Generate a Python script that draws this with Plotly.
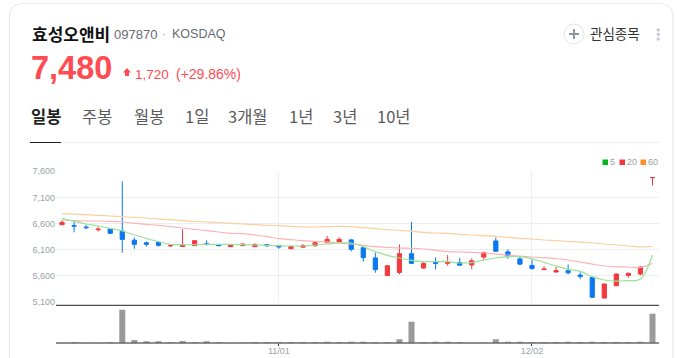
import plotly.graph_objects as go

W, H = 677, 358
session = list(range(50))
opens = [6575,6560,6530,6480,6495,6455,6280,6230,6235,6170,6160,6175,6210,6185,6155,6175,6155,6195,6175,6115,6145,6175,6230,6245,6285,6135,5940,5600,5660,6020,5745,5860,5835,5850,5805,5955,6265,6055,5920,5795,5715,5670,5695,5610,5565,5170,5405,5605,5630,7480]
highs = [6665,6640,6575,6540,6505,7408,6330,6255,6255,6200,6490,6280,6275,6195,6200,6220,6220,6200,6190,6175,6205,6245,6360,6335,6300,6150,6040,5795,6200,6630,5855,5950,5995,5940,5930,6045,6330,6105,5960,5910,5780,5770,5815,5665,5570,5440,5640,5655,5780,7480]
lows = [6575,6430,6490,6445,6405,6040,6115,6155,6155,6145,6155,6170,6175,6165,6150,6170,6155,6165,6115,6110,6140,6150,6220,6245,6065,5870,5655,5595,5625,5820,5735,5720,5790,5795,5720,5890,6060,5925,5805,5715,5715,5655,5625,5530,5180,5165,5400,5560,5605,7330]
closes = [6620,6550,6520,6490,6410,6295,6200,6200,6180,6180,6195,6270,6200,6175,6195,6205,6195,6170,6150,6160,6175,6230,6295,6295,6105,5945,5715,5790,6020,5835,5835,5835,5860,5800,5885,6045,6065,5965,5820,5735,5725,5695,5655,5585,5185,5440,5630,5645,5765,7480]
ma5 = [6698,6641,6590,6551,6507,6455,6379,6315,6251,6200,6193,6193,6200,6200,6200,6193,6187,6181,6174,6168,6168,6187,6206,6225,6225,6155,6059,5989,5938,5893,5867,5867,5867,5842,5848,5899,5938,5963,5963,5925,5854,5784,5720,5682,5580,5516,5496,5503,5535,5995]
ma20 = [6666,6654,6647,6647,6641,6628,6603,6583,6564,6539,6513,6487,6462,6436,6411,6404,6379,6347,6308,6289,6270,6257,6244,6225,6206,6181,6155,6142,6129,6123,6110,6085,6059,6053,6046,6034,6014,5995,5976,5957,5944,5925,5900,5861,5822,5784,5771,5765,5758,5835]
ma60 = [6788,6778,6769,6756,6743,6730,6718,6705,6686,6673,6654,6641,6628,6615,6603,6590,6577,6564,6558,6545,6532,6532,6539,6545,6539,6519,6500,6481,6468,6449,6430,6417,6411,6392,6379,6366,6353,6334,6315,6302,6283,6270,6257,6244,6225,6206,6187,6168,6149,6161]
volume = [1,3,1,1,3,100,10,6,6,3,7,3,6,3,1,2,3,3,3,3,3,3,5,3,5,5,3,3,12,64,3,5,5,3,2,2,12,5,5,3,3,4,5,4,5,4,4,3,5,88]
price_ticks = [5100,5600,6100,6600,7100,7600]
price_labels = ["5,100","5,600","6,100","6,600","7,100","7,600"]
date_ticks = [18,39]
date_labels = ["11/01","12/02"]
tabs = ["일봉","주봉","월봉","1일","3개월","1년","3년","10년"]

KR = "'Noto Sans CJK KR'"
LAT = "'Liberation Sans', 'Noto Sans CJK KR'"
def px(x): return x / W
def py(y): return 1 - y / H

fig = go.Figure()
for name, vals, col in [("60", ma60, "#fbcf9e"), ("20", ma20, "#fdb4b6"), ("5", ma5, "#97e497")]:
    fig.add_trace(go.Scatter(x=session, y=vals, mode="lines", name=name, line=dict(color=col, width=1.2, shape="spline"), xaxis="x", yaxis="y", hoverinfo="skip"))
fig.add_trace(go.Candlestick(x=session, open=opens, high=highs, low=lows, close=closes, xaxis="x", yaxis="y", whiskerwidth=0,
    increasing=dict(line=dict(color="#f23a3f", width=1), fillcolor="#f23a3f"),
    decreasing=dict(line=dict(color="#0a78f0", width=1), fillcolor="#0a78f0")))
fig.add_trace(go.Bar(x=session, y=volume, xaxis="x2", yaxis="y2", marker=dict(color="rgba(100,100,100,0.65)", line=dict(width=0))))

shapes = []
annos = []
def text(x, y, s, size, color, font=LAT, anchor="left", bold=False):
    annos.append(dict(xref="paper", yref="paper", x=px(x), y=py(y), text=f"<b>{s}</b>" if bold else s, showarrow=False,
                      xanchor=anchor, yanchor="middle", font=dict(size=size, color=color, family=font), borderpad=0))
def hline(x0, x1, y, color, w=1, layer="above"):
    shapes.append(dict(type="line", xref="paper", yref="paper", x0=px(x0), x1=px(x1), y0=py(y), y1=py(y), line=dict(color=color, width=w), layer=layer))

# card
L, T, R, B, r = 9.5, 3.5, 673, 380, 14
shapes.append(dict(type="path", xref="paper", yref="paper",
    path=f"M {px(L)} {py(B)} L {px(L)} {py(T+r)} Q {px(L)} {py(T)} {px(L+r)} {py(T)} L {px(R-r)} {py(T)} Q {px(R)} {py(T)} {px(R)} {py(T+r)} L {px(R)} {py(B)}",
    line=dict(color="#e9e9e9", width=1.2)))
# header
text(31, 33.5, "효성오앤비", 17, "#111111", KR, bold=True)
text(113, 34.5, "097870", 13, "#666b73", LAT)
text(164, 34, "·", 13, "#a5a5a5", LAT, "center")
text(171, 34.5, "KOSDAQ", 12.5, "#666b73", LAT)
text(30, 68, "7,480", 32.5, "#ff4b52", LAT, bold=True)
shapes.append(dict(type="path", xref="paper", yref="paper", fillcolor="#ff4b52", line=dict(width=0),
    path=f"M {px(127)} {py(68)} L {px(131)} {py(72.5)} L {px(129)} {py(72.5)} L {px(129)} {py(76)} L {px(125)} {py(76)} L {px(125)} {py(72.5)} L {px(123)} {py(72.5)} Z"))
text(134, 74, "1,720", 13.5, "#ff4b52", LAT)
text(175, 74, "(+29.86%)", 14, "#ff4b52", LAT)
# favourite
shapes.append(dict(type="circle", xref="paper", yref="paper", x0=px(564), x1=px(584), y0=py(44), y1=py(24), line=dict(color="#e2e4e8", width=1), fillcolor="white"))
hline(569, 579, 34, "#8d95a5", 2)
shapes.append(dict(type="line", xref="paper", yref="paper", x0=px(574), x1=px(574), y0=py(29), y1=py(39), line=dict(color="#8d95a5", width=2)))
text(589, 32.5, "관심종목", 13.5, "#333333", KR)
for yy in (30, 34.5, 39):
    shapes.append(dict(type="circle", xref="paper", yref="paper", x0=px(656.5), x1=px(660), y0=py(yy+1.7), y1=py(yy-1.7), fillcolor="#c8ccd4", line=dict(width=0)))
# tabs
tab_x = [30, 81, 133, 184, 227, 288, 332, 376]
for i, (lab, xx) in enumerate(zip(tabs, tab_x)):
    text(xx, 116, lab, 16.5, "#222222" if i == 0 else "#5b5b5b", KR, bold=(i == 0))
hline(61, 660, 142.5, "#eeeeee", 1)
hline(30, 61, 142.5, "#222222", 1)
# chart legend
for xx, lab, col in [(602.5, "5", "#00b81e"), (619.5, "20", "#f5343a"), (640.5, "60", "#ff8f1f")]:
    shapes.append(dict(type="rect", xref="paper", yref="paper", x0=px(xx), x1=px(xx+5.5), y0=py(165), y1=py(159.5), fillcolor=col, line=dict(width=0)))
    text(xx+6.5, 162, lab, 9, "#9a9fa8", LAT)
hline(56, 659, 305.3, "#222222", 1)
hline(56, 659, 343, "#8f8f8f", 2, layer="below")

fig.update_layout(
    width=W, height=H, margin=dict(l=0, r=0, t=0, b=0, pad=0), autosize=False,
    paper_bgcolor="white", plot_bgcolor="rgba(0,0,0,0)", showlegend=False, boxgap=0.5, bargap=0.5,
    shapes=shapes, annotations=annos,
    xaxis=dict(domain=[px(56), px(659)], range=[-0.5, 49.54], anchor="y", tickvals=date_ticks, ticktext=["", ""], ticks="", automargin=False,
               showgrid=True, gridcolor="#eeeeee", gridwidth=1, zeroline=False, showline=False, rangeslider=dict(visible=False)),
    yaxis=dict(domain=[py(301.7), py(171.3)], range=[5100, 7600], tickvals=price_ticks, ticktext=price_labels, ticks="", automargin=False,
               showgrid=True, gridcolor="#eeeeee", gridwidth=1, zeroline=False, showline=False,
               tickfont=dict(size=9, color="#9a9fa8", family=LAT)),
    xaxis2=dict(domain=[px(56), px(659)], range=[-0.5, 49.54], anchor="y2", tickvals=date_ticks, ticktext=date_labels, ticks="outside", ticklen=2, tickcolor="#333333", automargin=False,
                showgrid=False, zeroline=False, showline=False, ticklabelstandoff=-3,
                tickfont=dict(size=9, color="#9a9fa8", family=LAT)),
    yaxis2=dict(domain=[py(343.3), py(305.8)], range=[0, 112], showticklabels=False, ticks="", showgrid=False, zeroline=False, showline=False, automargin=False),
)
fig.write_html("out.html", config=dict(displayModeBar=False), post_script="document.body.style.margin='0';document.body.style.overflow='hidden';")
